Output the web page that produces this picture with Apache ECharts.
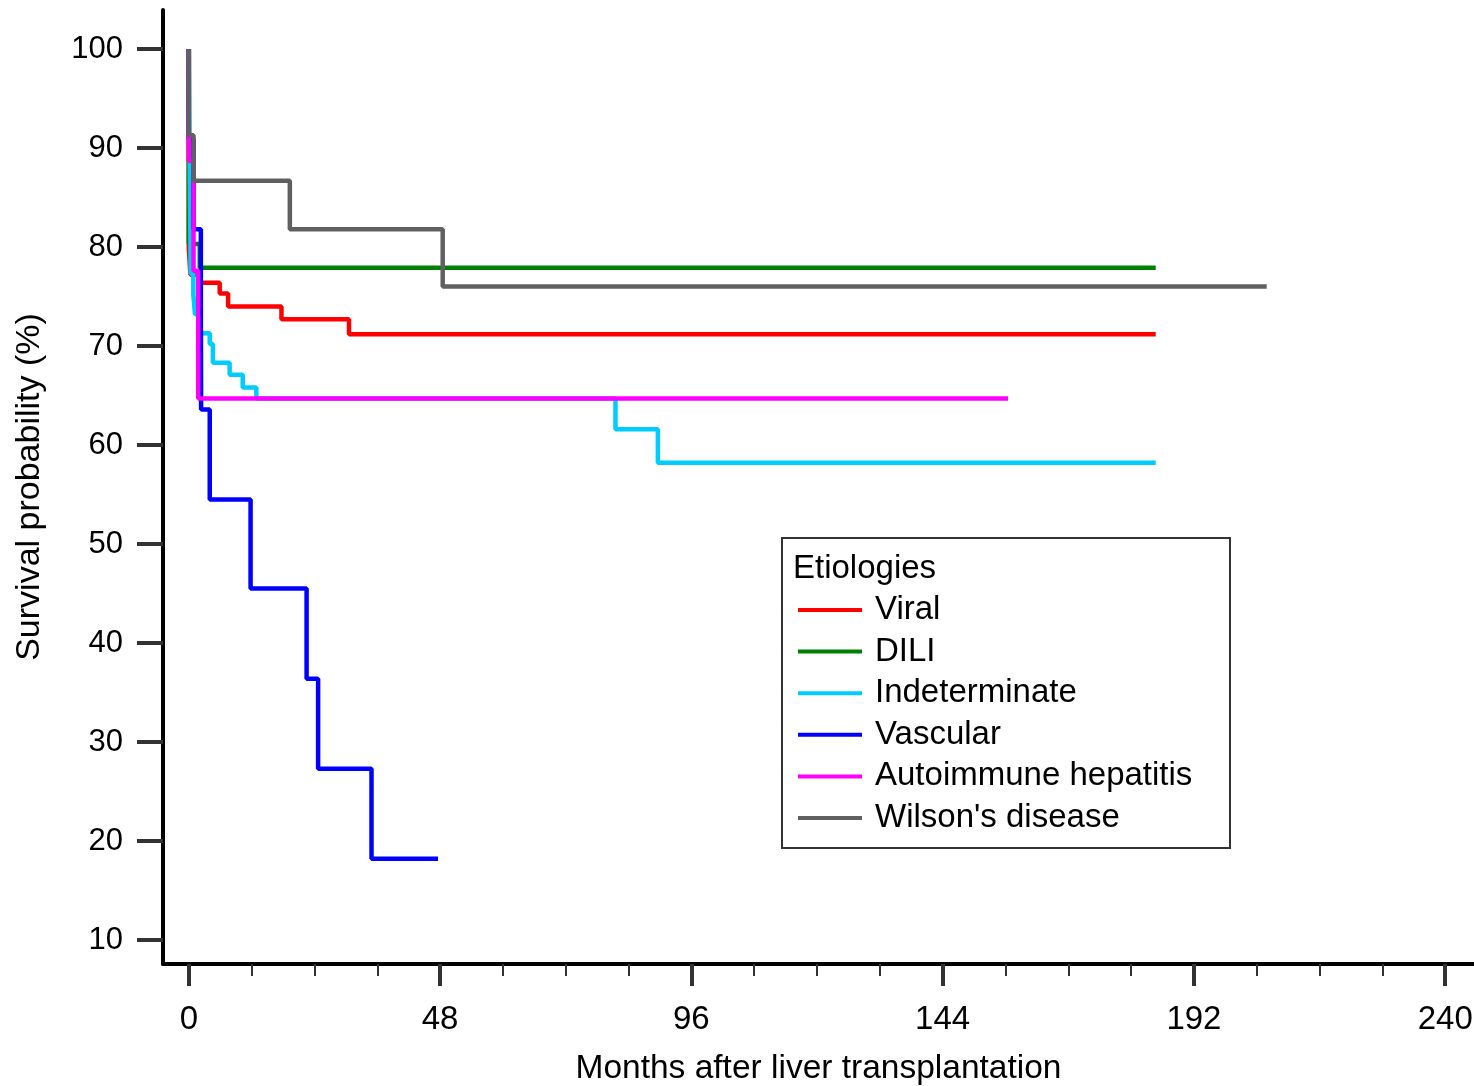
<!DOCTYPE html>
<html>
<head>
<meta charset="utf-8">
<script src="https://cdn.jsdelivr.net/npm/echarts@6/dist/echarts.min.js"></script>
<style>
html,body{margin:0;padding:0;background:#fff;}
#chart{width:1474px;height:1086px;}
</style>
</head>
<body>
<div id="chart"></div>
<script>
// ---- Data (months after LT, survival %) ----
const seriesNames = ["Viral", "DILI", "Indeterminate", "Vascular", "Autoimmune hepatitis", "Wilson's disease"];
const seriesColors = ["#FF0000", "#008000", "#00CCFF", "#0000FF", "#FF00FF", "#606060"];

const viralTime = [0, 0, 0.3, 2.1, 5.9, 7.5, 17.7, 30.6, 184.7];
const viralSurv = [100, 80.0, 77.2, 76.4, 75.3, 74.0, 72.7, 71.2, 71.2];

const diliTime = [0, 0, 2.1, 184.7];
const diliSurv = [100, 80.3, 77.9, 77.9];

const indetTime = [0, 0.35, 0.86, 1.18, 1.9, 4.0, 4.6, 7.8, 10.3, 12.9, 81.5, 89.6, 184.7];
const indetSurv = [100, 77.3, 75.2, 73.2, 71.3, 70.2, 68.3, 67.1, 65.8, 64.7, 61.6, 58.2, 58.2];

const vascTime = [0, 0, 0.9, 2.3, 2.35, 4.0, 11.8, 22.5, 24.7, 34.9, 47.6];
const vascSurv = [100, 90.9, 81.8, 72.7, 63.6, 54.5, 45.5, 36.4, 27.3, 18.2, 18.2];

const aihTime = [0, 0, 0.9, 1.8, 156.5];
const aihSurv = [100, 88.7, 77.6, 64.7, 64.7];

const wilsonTime = [0, 0, 0.9, 19.3, 48.5, 205.9];
const wilsonSurv = [100, 91.3, 86.7, 81.8, 76.0, 76.0];

const xMajorTicks = [0, 48, 96, 144, 192, 240];
const xMinorTicks = [12, 24, 36, 60, 72, 84, 108, 120, 132, 156, 168, 180, 204, 216, 228];
const yTicks = [10, 20, 30, 40, 50, 60, 70, 80, 90, 100];

const allTimes = [viralTime, diliTime, indetTime, vascTime, aihTime, wilsonTime];
const allSurv = [viralSurv, diliSurv, indetSurv, vascSurv, aihSurv, wilsonSurv];

const FONT = "'Liberation Sans', Arial, sans-serif";
const X_MIN = -4.93, X_MAX = 245.5, Y_MIN = 7.58, Y_MAX = 103.94;

const series = seriesNames.map((name, i) => ({
  name: name,
  type: 'line',
  step: 'end',
  showSymbol: false,
  symbol: 'none',
  xAxisIndex: 0,
  data: allTimes[i].map((t, j) => [t, allSurv[i][j]]),
  lineStyle: { color: seriesColors[i], width: 4.5 },
  itemStyle: { color: seriesColors[i] },
  animation: false
}));

const chart = echarts.init(document.getElementById('chart'), null, { renderer: 'canvas' });
chart.setOption({
  animation: false,
  backgroundColor: '#fff',
  grid: { left: 163, right: 0, top: 10, bottom: 122, containLabel: false, outerBoundsMode: 'none' },
  title: {
    text: 'Etiologies', left: 788, top: 547,
    textStyle: { fontFamily: FONT, fontSize: 33, fontWeight: 'normal', color: '#000' }
  },
  legend: {
    orient: 'vertical', left: 793, top: 587,
    icon: 'rect', itemWidth: 64, itemHeight: 4, itemGap: 5.6,
    data: seriesNames,
    textStyle: { fontFamily: FONT, fontSize: 33, color: '#000', lineHeight: 36, padding: [0, 0, 0, 8] }
  },
  graphic: [{
    type: 'rect', z: 100,
    shape: { x: 782, y: 538, width: 448, height: 310 },
    style: { fill: 'none', stroke: '#333', lineWidth: 2 }
  }],
  xAxis: [{
    type: 'value', min: X_MIN, max: X_MAX, position: 'bottom',
    name: 'Months after liver transplantation', nameLocation: 'middle', nameGap: 88,
    nameTextStyle: { fontFamily: FONT, fontSize: 33.5, color: '#000' },
    axisLine: { show: true, onZero: false, lineStyle: { color: '#000', width: 4 } },
    axisTick: { show: true, customValues: xMajorTicks, length: 22, lineStyle: { color: '#333', width: 4 } },
    axisLabel: { show: true, customValues: xMajorTicks, fontFamily: FONT, fontSize: 33, color: '#000', margin: 39 },
    splitLine: { show: false }
  }, {
    type: 'value', min: X_MIN, max: X_MAX, position: 'bottom',
    axisLine: { show: false },
    axisTick: { show: true, customValues: xMinorTicks, length: 12, lineStyle: { color: '#333', width: 2 } },
    axisLabel: { show: false },
    splitLine: { show: false }
  }],
  yAxis: {
    type: 'value', min: Y_MIN, max: Y_MAX,
    name: 'Survival probability (%)', nameLocation: 'middle', nameGap: 116,
    nameTextStyle: { fontFamily: FONT, fontSize: 34, color: '#000' },
    axisLine: { show: true, onZero: false, lineStyle: { color: '#000', width: 4 } },
    axisTick: { show: true, customValues: yTicks, length: 26, lineStyle: { color: '#333', width: 4 } },
    axisLabel: { show: true, customValues: yTicks, fontFamily: FONT, fontSize: 31, color: '#000', margin: 40 },
    splitLine: { show: false }
  },
  series: series
});
</script>
</body>
</html>
